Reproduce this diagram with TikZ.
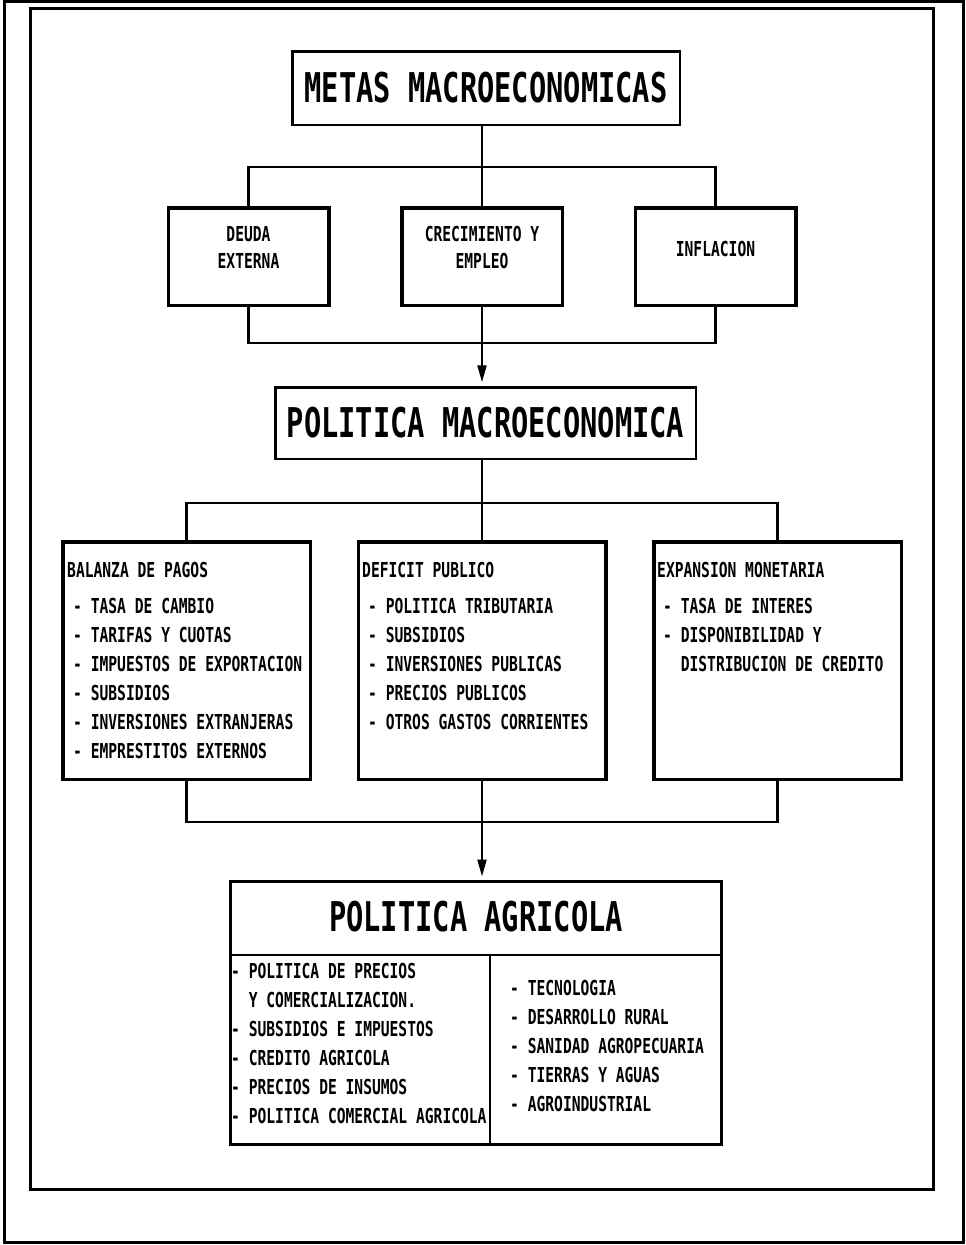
\documentclass[tikz,border=0pt]{standalone}
\usepackage{fontspec}
\usetikzlibrary{positioning,arrows.meta}
\newfontfamily\titlefont[FakeStretch=0.70]{DejaVu Sans Mono Bold}
\newfontfamily\itemfont[FakeStretch=0.71]{DejaVu Sans Mono Bold}
\newcommand{\dashitem}{\hspace*{6pt}- }
\newcommand{\contline}{\hspace*{6pt}\phantom{- }}

\begin{document}
\begin{tikzpicture}[
    x=1pt, y=-1pt,
    frame/.style={line width=3pt},
    headbox/.style={rectangle, draw, line width=2.5pt, inner sep=0pt, outer sep=0pt,
                    font=\titlefont\fontsize{41}{41}\selectfont},
    goalbox/.style={rectangle, draw, line width=3.5pt, inner sep=0pt, outer sep=0pt,
                    minimum width=160.5pt, minimum height=97.5pt},
    toolbox/.style={rectangle, draw, line width=3.5pt, inner sep=0pt, outer sep=0pt,
                    minimum width=247.5pt, minimum height=237.5pt},
    goaltext/.style={inner sep=0pt, align=center, font=\itemfont\fontsize{20.6}{27}\selectfont},
    boxtext/.style={inner sep=0pt, align=left, anchor=north west,
                    font=\itemfont\fontsize{20.6}{29}\selectfont},
    conn/.style={line width=2.2pt},
    arr/.style={conn, -{Triangle[length=17pt,width=9pt]}, shorten >=5pt}
  ]
    \useasboundingbox (0,0) rectangle (966,1245);
    % page frames
    \draw[frame] (4,1.5) rectangle (963.5,1242.5);
    \draw[frame] (30,8) rectangle (933,1189);

    % goals
    \node[headbox, minimum width=387.5pt, minimum height=73.5pt] (metas) at (486,88) {METAS MACROECONOMICAS};
    \node[goalbox] (crec) at (482,256.5) {};
    \node[goalbox] (deuda) [left=73pt of crec]  {};
    \node[goalbox] (infl)  [right=73pt of crec] {};
    \node[goaltext] (deuda-t) at ([yshift=9pt]deuda.center) {DEUDA\\EXTERNA};
    \node[goaltext] (crec-t)  at ([yshift=9pt]crec.center)  {CRECIMIENTO Y\\EMPLEO};
    \node[goaltext] (infl-t)  at ([yshift=7.5pt]infl.center) {INFLACION};

    % macro policy
    \node[headbox, minimum width=420.5pt, minimum height=71.5pt] (macro) at (485.5,423) {POLITICA MACROECONOMICA};
    \node[toolbox] (deficit) at (482,660.5) {};
    \node[toolbox] (balanza)   [left=48pt of deficit]  {};
    \node[toolbox] (expansion) [right=48pt of deficit] {};
    \node[boxtext] (balanza-t) at (67,562) {BALANZA DE PAGOS\\[7pt]
      \dashitem TASA DE CAMBIO\\
      \dashitem TARIFAS Y CUOTAS\\
      \dashitem IMPUESTOS DE EXPORTACION\\
      \dashitem SUBSIDIOS\\
      \dashitem INVERSIONES EXTRANJERAS\\
      \dashitem EMPRESTITOS EXTERNOS};
    \node[boxtext] (deficit-t) at (362,562) {DEFICIT PUBLICO\\[7pt]
      \dashitem POLITICA TRIBUTARIA\\
      \dashitem SUBSIDIOS\\
      \dashitem INVERSIONES PUBLICAS\\
      \dashitem PRECIOS PUBLICOS\\
      \dashitem OTROS GASTOS CORRIENTES};
    \node[boxtext] (expansion-t) at (657,562) {EXPANSION MONETARIA\\[7pt]
      \dashitem TASA DE INTERES\\
      \dashitem DISPONIBILIDAD Y\\
      \contline DISTRIBUCION DE CREDITO};

    % agricultural policy
    \node[rectangle, draw, line width=3pt, inner sep=0pt, outer sep=0pt,
          minimum width=491pt, minimum height=263pt] (agri) at (476,1013) {};
    \node[font=\titlefont\fontsize{41}{41}\selectfont, inner sep=0pt] (agri-title) at (476,917) {POLITICA AGRICOLA};
    \coordinate (split) at (490,955);
    \draw[line width=2.5pt] (agri.west |- split) -- (agri.east |- split);
    \draw[line width=2.5pt] (split) -- (split |- agri.south);
    \node[boxtext] (agri-left) at (231,963) {- POLITICA DE PRECIOS\\
      \phantom{- }Y COMERCIALIZACION.\\
      - SUBSIDIOS E IMPUESTOS\\
      - CREDITO AGRICOLA\\
      - PRECIOS DE INSUMOS\\
      - POLITICA COMERCIAL AGRICOLA};
    \node[boxtext] (agri-right) at (510,980) {- TECNOLOGIA\\
      - DESARROLLO RURAL\\
      - SANIDAD AGROPECUARIA\\
      - TIERRAS Y AGUAS\\
      - AGROINDUSTRIAL};

    % connectors
    \coordinate (bar1) at (482,167);
    \draw[conn] (metas.south -| bar1) -- (bar1);
    \draw[conn] (deuda.north) |- (bar1) -| (infl.north);
    \draw[conn] (crec.north) -- (crec.north |- bar1);
    \coordinate (bar2) at (482,343);
    \draw[conn] (deuda.south) |- (bar2) -| (infl.south);
    \draw[arr] (crec.south) -- (crec.south |- macro.north);

    \coordinate (bar3) at (482,503);
    \draw[conn] (macro.south -| bar3) -- (bar3);
    \draw[conn] (balanza.north) |- (bar3) -| (expansion.north);
    \draw[conn] (deficit.north) -- (deficit.north |- bar3);
    \coordinate (bar4) at (482,822);
    \draw[conn] (balanza.south) |- (bar4) -| (expansion.south);
    \draw[arr] (deficit.south) -- (deficit.south |- agri.north);
\end{tikzpicture}
\end{document}
